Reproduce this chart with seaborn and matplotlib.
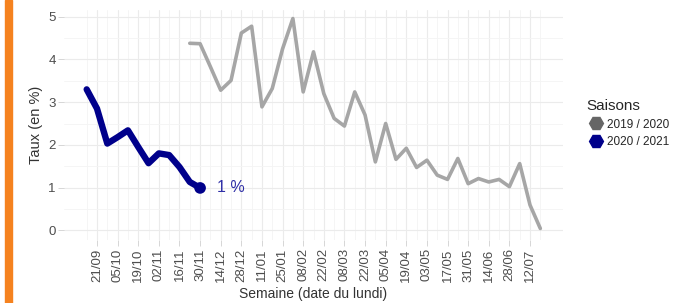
import pandas as pd
import matplotlib.pyplot as plt
import matplotlib.dates as mdates
from matplotlib.lines import Line2D
from matplotlib.patches import Rectangle
import seaborn as sns

# Style proche de theme_minimal
sns.set_theme(style="whitegrid")
plt.rcParams['font.family'] = ['Liberation Sans', 'DejaVu Sans']

# Semaines (date du lundi), calées sur la saison 2020/2021
semaines = pd.date_range("2020-09-14", "2021-07-19", freq="7D")

# Taux hebdomadaires (en %)
taux_2020_2021 = [3.30, 2.85, 2.03, 2.18, 2.34, 1.95, 1.57, 1.80, 1.76, 1.48,
                  1.13, 0.99]
taux_2019_2020 = [4.38, 4.37, 3.83, 3.28, 3.51, 4.62, 4.78, 2.89, 3.32, 4.25,
                  4.96, 3.24, 4.18, 3.20, 2.62, 2.44, 3.24, 2.70, 1.60, 2.50,
                  1.66, 1.92, 1.47, 1.64, 1.29, 1.19, 1.68, 1.09, 1.21, 1.13,
                  1.19, 1.02, 1.56, 0.59, 0.04]

saisons = ["2019 / 2020", "2020 / 2021"]
couleurs = {"2019 / 2020": "#A6A6A6", "2020 / 2021": "#00008B"}
couleurs_legende = {"2019 / 2020": "#666666", "2020 / 2021": "#00008B"}

df_2021 = pd.DataFrame({"semaine": semaines[:len(taux_2020_2021)],
                        "taux": taux_2020_2021, "saison": saisons[1]})
df_2020 = pd.DataFrame({"semaine": semaines[len(semaines) - len(taux_2019_2020):],
                        "taux": taux_2019_2020, "saison": saisons[0]})

fig = plt.figure(figsize=(6.76, 3.03), dpi=100)
ax = fig.add_axes([64 / 676, 1 - 240 / 303, (563 - 64) / 676, 230 / 303])

sns.lineplot(data=df_2020, x="semaine", y="taux", color=couleurs[saisons[0]],
             lw=2.6, ax=ax, legend=False, solid_joinstyle='round')
sns.lineplot(data=df_2021, x="semaine", y="taux", color=couleurs[saisons[1]],
             lw=4.6, ax=ax, legend=False, solid_joinstyle='round')
dernier = df_2021.iloc[[-1]]
sns.scatterplot(data=dernier, x="semaine", y="taux", color=couleurs[saisons[1]],
                s=70, edgecolor='none', ax=ax, legend=False, zorder=5)
ax.annotate(f"{dernier['taux'].iloc[0]:.0f} %",
            xy=(dernier['semaine'].iloc[0], dernier['taux'].iloc[0]),
            xytext=(12, 0), textcoords='offset points', va='center', ha='left',
            color='#2E2EA6', fontsize=11.5)

# Axes
marge = pd.Timedelta(days=15.4)
ax.set_xlim(semaines[0] - marge, semaines[-1] + marge)
ax.set_ylim(-0.23, 5.16)
ax.set_xticks(semaines[1::2])
ax.set_xticks(semaines[0::2], minor=True)
ax.xaxis.set_major_formatter(mdates.DateFormatter('%d/%m'))
ax.set_yticks([0, 1, 2, 3, 4, 5])
ax.set_yticks([0.5, 1.5, 2.5, 3.5, 4.5], minor=True)
ax.tick_params(axis='x', which='major', rotation=90)
ax.tick_params(which='major', length=4, width=0.6, color='#D0D0D0',
               labelcolor='#4D4D4D', labelsize=9.5, pad=2, bottom=True, left=True)
ax.tick_params(which='minor', length=0)
ax.grid(which='major', color='#EBEBEB', lw=0.8)
ax.grid(which='minor', color='#F4F4F4', lw=0.6)
for s in ax.spines.values():
    s.set_visible(False)
ax.set_xlabel("Semaine (date du lundi)", fontsize=10, color='#333333', labelpad=4)
ax.set_ylabel("Taux (en %)", fontsize=10.5, color='#333333', labelpad=4)

# Légende
poignees = [Line2D([], [], color=couleurs_legende[s], marker='H', markersize=10,
                   linestyle='none') for s in saisons]
fig.legend(poignees, saisons, title="Saisons", loc='upper left',
           bbox_to_anchor=(576 / 676, 1 - 88 / 303), frameon=False,
           fontsize=8.5, title_fontsize=11, handletextpad=0.1,
           handlelength=1.6, labelspacing=0.5, alignment='left')

# Bandeau orange à gauche
fig.patches.append(Rectangle((5 / 676, 0), 7 / 676, 1, transform=fig.transFigure,
                             color='#F5821F', zorder=10))

fig.savefig("out.png", dpi=100)
